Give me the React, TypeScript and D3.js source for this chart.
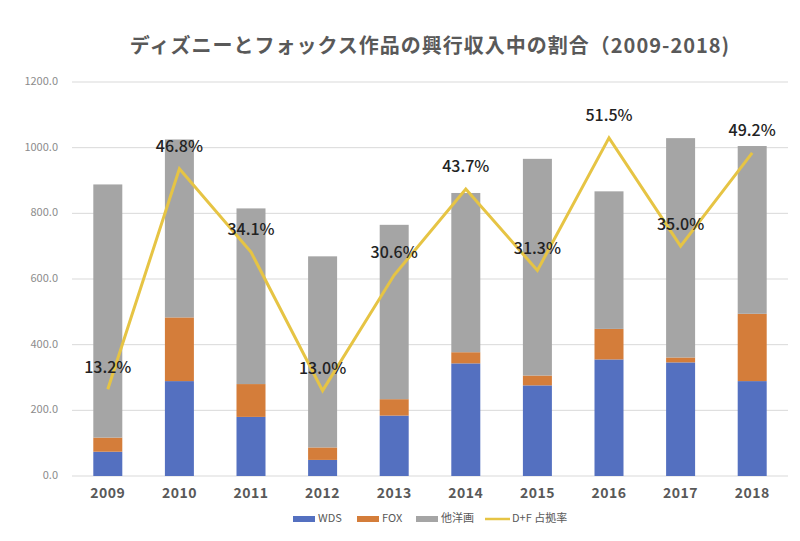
import React from "react";
import * as d3 from "d3";

const years = ["2009", "2010", "2011", "2012", "2013", "2014", "2015", "2016", "2017", "2018"];
const wds = [74, 289, 180, 49, 184, 343, 276, 355, 346, 289];
const fox = [43, 194, 100, 38, 50, 34, 30, 93, 15, 205];
const other = [771, 542, 535, 582, 531, 485, 660, 419, 668, 511];
const share = [13.2, 46.8, 34.1, 13.0, 30.6, 43.7, 31.3, 51.5, 35.0, 49.2];
const yTicks = [0, 200, 400, 600, 800, 1000, 1200];
const seriesNames = ["WDS", "FOX", "他洋画"];
const lineName = "D+F 占拠率";
const colors = ["#5470C0", "#D47D3A", "#A5A5A5"];
const lineColor = "#E6C444";
const title = "ディズニーとフォックス作品の興行収入中の割合（2009-2018)";

const W = 800;
const H = 541;
const FONT = "'Noto Sans CJK JP', 'Noto Sans', sans-serif";

export default function App() {
  const x = d3.scaleBand<string>().domain(years).range([72, 788]).padding(0);
  const y = d3.scaleLinear().domain([0, 1200]).range([476, 82]);
  const y2 = d3.scaleLinear().domain([0, 60]).range([476, 82]);
  const barW = x.bandwidth() * 0.405;

  const rows = years.map((yr, i) => ({ year: yr, s0: wds[i], s1: fox[i], s2: other[i] }));
  const stacked = d3.stack<any>().keys(["s0", "s1", "s2"])(rows);

  const line = d3
    .line<number>()
    .x((_, i) => (x(years[i]) as number) + x.bandwidth() / 2)
    .y((d) => y2(d));

  const legendItems = [
    { x: 293, label: seriesNames[0], color: colors[0], type: "rect" },
    { x: 357, label: seriesNames[1], color: colors[1], type: "rect" },
    { x: 416, label: seriesNames[2], color: colors[2], type: "rect" },
    { x: 485, label: lineName, color: lineColor, type: "line" },
  ];

  return (
    <div style={{ position: "fixed", left: 0, top: 0 }}>
      <svg width={W} height={H} style={{ display: "block", background: "#fff" }} fontFamily={FONT}>
        <rect width={W} height={H} fill="#fff" />
        <text x={430} y={48} textAnchor="middle" dominantBaseline="middle" fontSize={20} fontWeight={700} fill="#595959" letterSpacing={1}>
          {title}
        </text>
        {yTicks.map((t) => (
          <g key={t}>
            <line x1={72} x2={788} y1={y(t)} y2={y(t)} stroke="#D9D9D9" strokeWidth={1} />
            <text x={58} y={y(t)} textAnchor="end" dominantBaseline="middle" fontSize={11} fill="#8C8C8C">
              {t.toFixed(1)}
            </text>
          </g>
        ))}
        {stacked.map((layer, li) => (
          <g key={li} fill={colors[li]}>
            {layer.map((d, i) => (
              <rect
                key={i}
                x={(x(years[i]) as number) + (x.bandwidth() - barW) / 2}
                y={y(d[1])}
                width={barW}
                height={y(d[0]) - y(d[1])}
              />
            ))}
          </g>
        ))}
        {years.map((yr) => (
          <text key={yr} x={(x(yr) as number) + x.bandwidth() / 2} y={494} textAnchor="middle" dominantBaseline="middle" fontSize={14} fontWeight={700} fill="#595959" letterSpacing={0.5}>
            {yr}
          </text>
        ))}
        <path d={line(share) || ""} fill="none" stroke={lineColor} strokeWidth={3} strokeLinejoin="miter" />
        {share.map((v, i) => (
          <text key={i} x={(x(years[i]) as number) + x.bandwidth() / 2} y={y2(v) - 21} textAnchor="middle" dominantBaseline="middle" fontSize={16} fontWeight={500} fill="#222">
            {v.toFixed(1)}%
          </text>
        ))}
        {legendItems.map((it) => (
          <g key={it.label}>
            {it.type === "rect" ? (
              <rect x={it.x} y={516} width={22} height={6} fill={it.color} />
            ) : (
              <line x1={it.x} x2={it.x + 25} y1={519} y2={519} stroke={it.color} strokeWidth={2.5} />
            )}
            <text x={it.x + (it.type === "rect" ? 25 : 27)} y={519.5} dominantBaseline="middle" fontSize={11} fill="#595959">
              {it.label}
            </text>
          </g>
        ))}
      </svg>
    </div>
  );
}
